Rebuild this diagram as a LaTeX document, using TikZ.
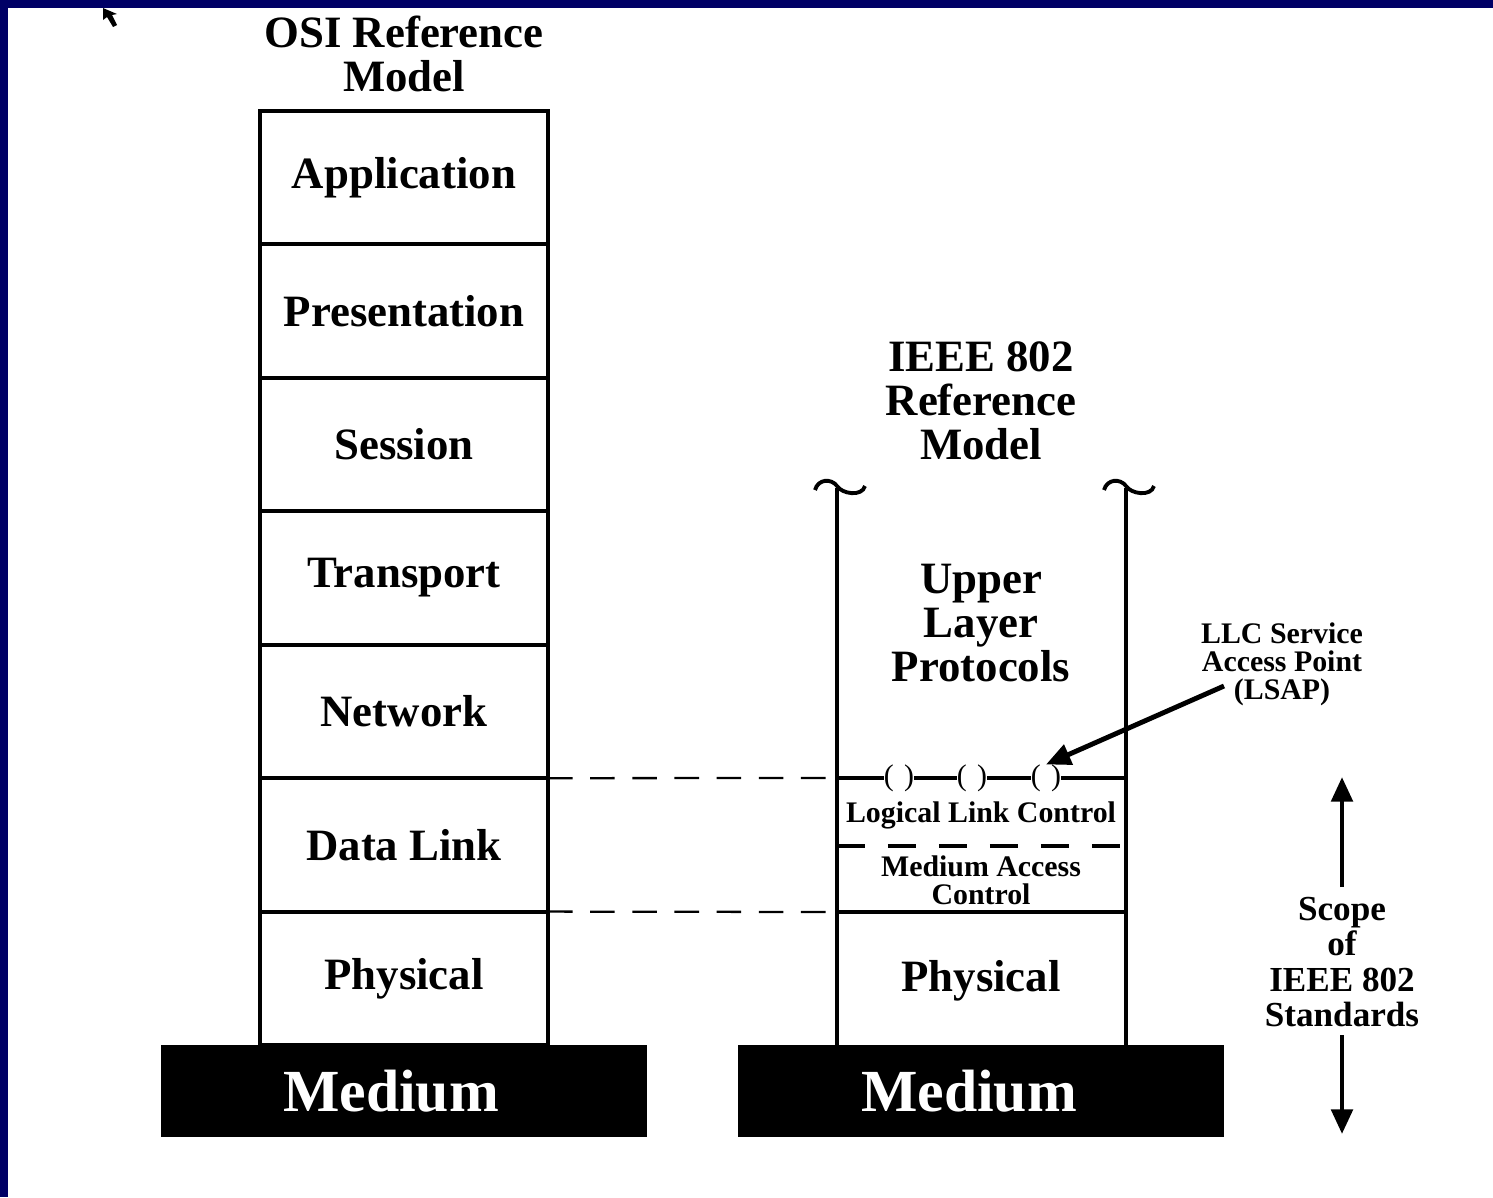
\documentclass[tikz,border=0pt]{standalone}
\usepackage{fontspec}
\setmainfont{Liberation Serif}
\usetikzlibrary{arrows.meta}
\definecolor{navyb}{RGB}{0,0,102}
\begin{document}
\begin{tikzpicture}[x=0.02cm,y=-0.02cm,
  big/.style={font=\fontsize{25.5}{25}\selectfont\bfseries, align=center, inner sep=0pt},
  small/.style={font=\fontsize{17}{16}\selectfont\bfseries, align=center, inner sep=0pt},
  scopefont/.style={font=\fontsize{20}{20}\selectfont\bfseries, align=center, inner sep=0pt},
  layer/.style={draw, line width=2.2pt, minimum width=5.76cm, minimum height=2.6686cm, inner sep=0pt, outer sep=0pt, font=\fontsize{25.5}{25}\selectfont\bfseries},
  mediumbox/.style={fill=black, minimum width=9.72cm, minimum height=1.84cm, inner sep=0pt},
  medtext/.style={text=white, font=\fontsize{34}{34}\selectfont\bfseries, inner sep=0pt},
  sap/.style={font=\fontsize{17}{17}\selectfont, inner sep=0pt, outer sep=0pt},
  thickline/.style={line width=2.2pt},
  osidash/.style={line width=1.3pt, dash pattern=on 14pt off 10pt},
  innerdash/.style={line width=2.2pt, dash pattern=on 16pt off 13pt},
  bigarrow/.style={line width=2.8pt, -{Triangle[length=14pt,width=12pt]}},
]
\useasboundingbox (0,0) rectangle (1493,1197);
\fill[white] (0,0) rectangle (1493,1197);
\fill[navyb] (0,0) rectangle (1493,8);
\fill[navyb] (0,0) rectangle (8,1197);
% cursor
\fill (103,8) -- (103,20) -- (107,17) -- (113,27) -- (117,25) -- (112,15) -- (117,14) -- cycle;

% OSI title and stack
\node[big] (osititle) at (404,54) {OSI Reference\\Model};
\foreach \n/\t [count=\i from 0] in {app/Application, pres/Presentation, ses/Session, tra/Transport, net/Network, dl/Data Link, phy/Physical}
  \node[layer] (\n) at (404,{111+133.43*(\i+0.5)}) {\t};
\node[mediumbox] (med1) at (404,1091) {};
\node[medtext] (medt1) at (391,1091) {Medium};

% IEEE 802
\node[big] (ieeetitle) at (981,401) {IEEE 802\\Reference\\Model};
\coordinate (lt) at (837,488);
\coordinate (rt) at (1126,488);
\coordinate (lb) at (837,1045);
\coordinate (rb) at (1126,1045);
\draw[thickline] (lt) -- (lb);
\draw[thickline] (rt) -- (rb);
\draw[thickline] (815,490) .. controls (818,479) and (831,478) .. (837,486) .. controls (842,494) and (862,497) .. (865,486);
\draw[thickline] (1104,490) .. controls (1107,479) and (1120,478) .. (1126,486) .. controls (1131,494) and (1151,497) .. (1154,486);
\node[big] (ulp) at (981,623) {Upper\\Layer\\Protocols};

% LLC line with service access points
\coordinate (llcl) at (837,778);
\coordinate (llcr) at (1126,778);
\node[sap] (s1) at (899,778) {(\hspace{0.35em})};
\node[sap] (s2) at (972,778) {(\hspace{0.35em})};
\node[sap] (s3) at (1046,778) {(\hspace{0.35em})};
\draw[thickline] (llcl) -- (s1.west);
\draw[thickline] (s1.east) -- (s2.west);
\draw[thickline] (s2.east) -- (s3.west);
\draw[thickline] (s3.east) -- (llcr);
\node[small] (llc) at (981,815) {Logical Link Control};
\coordinate (macdl) at (837,846);
\coordinate (macdr) at (1126,846);
\draw[innerdash] (macdl) -- (macdr);
\node[small] (mac) at (981,880) {Medium Access\\Control};
\coordinate (phyl) at (837,912);
\coordinate (phyr) at (1126,912);
\draw[thickline] (phyl) -- (phyr);
\node[big] (phy2) at (981,981) {Physical};
\node[mediumbox] (med2) at (981,1091) {};
\node[medtext] (medt2) at (969,1091) {Medium};

% dashed connectors
\draw[osidash] (dl.north east) -- (llcl);
\draw[osidash] (dl.south east) -- (phyl);

% LSAP label
\node[small] (lsap) at (1282,664) {LLC Service\\Access Point\\(LSAP)};
\coordinate (lsapstart) at (1224,686);
\draw[bigarrow] (lsapstart) -- (s3.north);

% Scope
\node[scopefont] (scope) at (1342,962) {Scope\\of\\IEEE 802\\Standards};
\coordinate (scopetop) at (1342,777);
\coordinate (scopebot) at (1342,1134);
\draw[bigarrow] (1342,887) -- (scopetop);
\draw[bigarrow] (1342,1035) -- (scopebot);
\end{tikzpicture}
\end{document}
